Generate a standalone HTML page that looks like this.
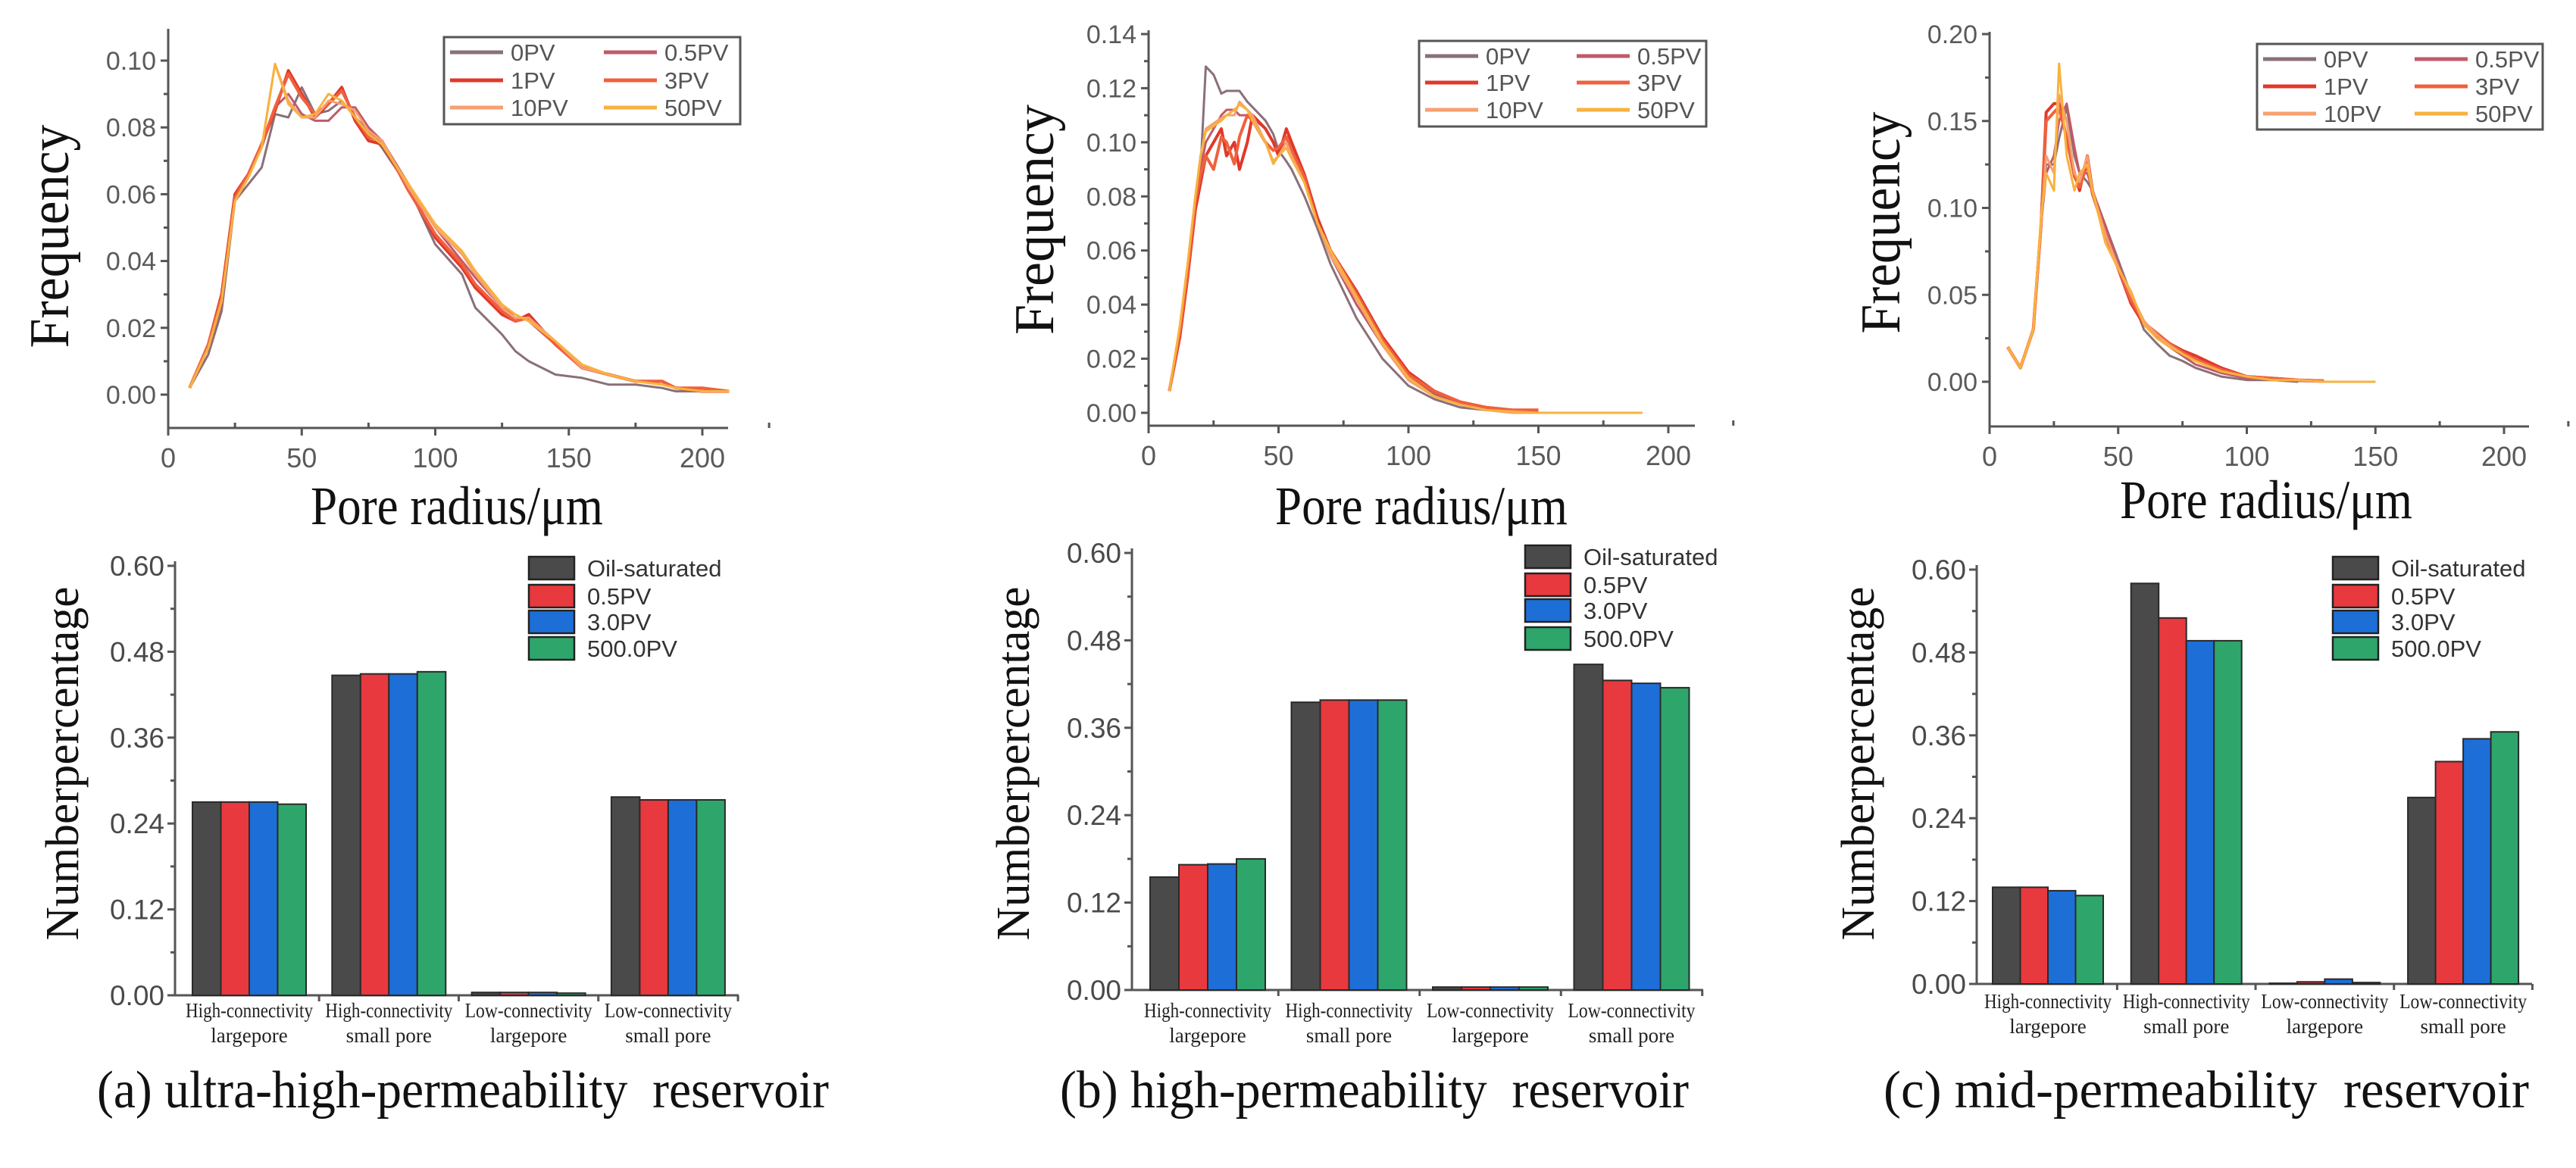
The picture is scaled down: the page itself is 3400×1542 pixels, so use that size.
<!DOCTYPE html>
<html><head><meta charset="utf-8"><style>
html,body{margin:0;padding:0;background:#fff}
svg{display:block}
</style></head><body>
<svg id="fig" width="3400" height="1542" viewBox="0 0 3400 1542" xmlns="http://www.w3.org/2000/svg">
<rect x="0" y="0" width="3400" height="1542" fill="#fff"/>
</svg>
<script>
// ---------- line chart data ----------
const legendLabels = ["0PV","0.5PV","1PV","3PV","10PV","50PV"];
const lineColors = ["#8a7078","#c05a68","#e0382a","#f0603e","#f7a070","#f8b23e"];

const xA = [8,15,20,25,30,35,40,45,50,55,60,65,70,75,80,90,100,110,115,125,130,135,145,155,165,175,185,190,200,210];
const a0 = [.002,.012,.025,.058,.063,.068,.084,.083,.092,.084,.085,.088,.083,.079,.074,.062,.045,.036,.026,.018,.013,.010,.006,.005,.003,.003,.002,.001,.001,.001];
const a05 = [.002,.014,.027,.060,.066,.074,.086,.090,.084,.082,.082,.086,.086,.080,.076,.063,.050,.040,.035,.026,.024,.022,.015,.008,.006,.004,.004,.002,.001,.001];
const a1 = [.002,.015,.030,.060,.066,.075,.085,.097,.090,.083,.087,.092,.082,.076,.075,.062,.047,.038,.032,.024,.022,.024,.015,.008,.006,.004,.004,.002,.001,.001];
const a3 = [.002,.015,.029,.059,.066,.075,.086,.096,.089,.084,.087,.091,.083,.077,.076,.061,.048,.039,.033,.025,.022,.023,.015,.008,.006,.004,.004,.002,.002,.001];
const a10 = [.002,.014,.028,.058,.065,.074,.099,.088,.083,.083,.088,.087,.085,.079,.076,.062,.050,.042,.036,.026,.023,.023,.016,.008,.006,.004,.003,.002,.001,.001];
const a50 = [.002,.014,.028,.058,.065,.074,.099,.087,.083,.084,.090,.088,.083,.078,.075,.063,.051,.043,.037,.027,.024,.022,.016,.009,.006,.004,.003,.002,.001,.001];
const yTicksA = ["0.00","0.02","0.04","0.06","0.08","0.10"];

const xB = [8,12,15,18,20,22,25,28,30,33,35,38,40,45,48,50,53,55,60,65,70,80,90,100,110,120,130,140,150,170,190];
const b0 = [.008,.030,.050,.075,.090,.128,.125,.118,.119,.119,.119,.115,.113,.108,.103,.097,.093,.090,.080,.068,.055,.035,.020,.010,.005,.002,.001,.0005,null,null,null];
const b05 = [.008,.030,.050,.080,.090,.100,.105,.110,.112,.112,.110,.110,.109,.105,.100,.097,.100,.096,.085,.070,.058,.040,.025,.013,.007,.003,.001,.001,.0005,null,null];
const b1 = [.008,.028,.050,.075,.085,.095,.100,.105,.095,.100,.090,.100,.110,.105,.100,.095,.105,.100,.088,.072,.060,.045,.028,.015,.008,.004,.002,.001,.001,null,null];
const b3 = [.008,.030,.052,.078,.088,.095,.090,.102,.100,.092,.102,.110,.108,.100,.097,.098,.102,.097,.087,.070,.060,.044,.027,.014,.008,.004,.002,.001,.001,null,null];
const b10 = [.008,.032,.055,.080,.095,.105,.107,.109,.110,.110,.115,.112,.110,.100,.093,.095,.100,.095,.085,.070,.058,.042,.025,.012,.006,.003,.001,0,0,0,0];
const b50 = [.008,.032,.055,.080,.095,.104,.106,.108,.110,.112,.114,.112,.108,.100,.092,.095,.098,.094,.085,.070,.060,.043,.026,.013,.006,.003,.001,.0005,0,0,0];
const yTicksB = ["0.00","0.02","0.04","0.06","0.08","0.10","0.12","0.14"];

const xC = [7,12,17,20,22,25,27,30,33,35,38,40,45,50,55,60,65,70,75,80,90,100,110,120,130,150];
const c0 = [.020,.008,.030,.090,.125,.125,.140,.158,.130,.120,.115,.110,.090,.070,.050,.030,.022,.015,.012,.008,.003,.001,.001,0,null,null];
const c05 = [.020,.008,.030,.090,.120,.130,.150,.160,.135,.120,.120,.110,.090,.068,.050,.035,.026,.020,.015,.010,.005,.002,.001,.0005,0,null];
const c1 = [.020,.008,.030,.090,.155,.160,.160,.140,.120,.110,.130,.110,.085,.065,.045,.033,.027,.022,.018,.015,.008,.003,.002,.001,.0005,null];
const c3 = [.020,.008,.030,.090,.150,.155,.158,.140,.118,.112,.125,.108,.085,.065,.047,.034,.028,.022,.017,.013,.007,.003,.002,.001,.0005,null];
const c10 = [.020,.008,.030,.090,.130,.120,.165,.150,.120,.115,.130,.110,.085,.066,.050,.035,.027,.021,.016,.012,.006,.003,.001,.001,0,0];
const c50 = [.020,.008,.030,.095,.120,.110,.183,.130,.110,.120,.125,.110,.080,.065,.052,.033,.025,.020,.016,.012,.006,.003,.001,.001,0,0];
const yTicksC = ["0.00","0.05","0.10","0.15","0.20"];

const xTickLabels = ["0","50","100","150","200"];

// ---------- bar chart data ----------
const categoriesL1 = ["High-connectivity","High-connectivity","Low-connectivity","Low-connectivity"];
const categoriesL2 = ["largepore","small pore","largepore","small pore"];
const barLegend = ["Oil-saturated","0.5PV","3.0PV","500.0PV"];
const barColors = ["#4a4a4a","#e8393e","#1e6ed8","#2ea66b"];
const barTicks = ["0.00","0.12","0.24","0.36","0.48","0.60"];
const barsA_oil = [0.270,0.447,0.004,0.277];
const barsA_05 = [0.270,0.449,0.004,0.273];
const barsA_3 = [0.270,0.449,0.004,0.273];
const barsA_500 = [0.267,0.452,0.003,0.273];
const barsB_oil = [0.155,0.395,0.004,0.447];
const barsB_05 = [0.172,0.398,0.004,0.425];
const barsB_3 = [0.173,0.398,0.004,0.421];
const barsB_500 = [0.180,0.398,0.004,0.415];
const barsC_oil = [0.140,0.580,0.001,0.270];
const barsC_05 = [0.140,0.530,0.003,0.322];
const barsC_3 = [0.135,0.497,0.007,0.355];
const barsC_500 = [0.128,0.497,0.002,0.365];

const NS = "http://www.w3.org/2000/svg";
const svg = document.getElementById("fig");
function mk(tag, attrs, parent){
  const e = document.createElementNS(NS, tag);
  for (const k in attrs) e.setAttribute(k, attrs[k]);
  (parent||svg).appendChild(e);
  return e;
}
function txt(parent, x, y, s, attrs){
  const t = mk("text", Object.assign({x:x, y:y}, attrs), parent);
  t.textContent = s;
  return t;
}

function lineChart(p){
  const g = mk("g", {});
  
  
  const sx = v => p.x0 + (v/200)*(p.x200 - p.x0);
  const sy = v => p.yZero - (v/p.yMax)*(p.yZero - p.yMaxPx);
  const ax = mk("g", {stroke:"#555","stroke-width":3, fill:"none"}, g);
  
  
  mk("line", {x1:p.x0, y1:p.axisTop, x2:p.x0, y2:p.axisY}, ax);
  mk("line", {x1:p.x0, y1:p.axisY, x2:p.axisEnd, y2:p.axisY}, ax);
  p.yTicks.forEach((lab, i) => {
    const v = parseFloat(lab);
    const y = sy(v);
    mk("line", {x1:p.x0-10, y1:y, x2:p.x0, y2:y}, ax);
    const t = txt(g, p.x0-16, y+12, lab, {"font-family":"Liberation Sans, sans-serif","font-size":34, fill:"#5a5a5a","text-anchor":"end"});
    
    
    if (i < p.yTicks.length-1){
      const ym = sy(v + (parseFloat(p.yTicks[1])-parseFloat(p.yTicks[0]))/2);
      mk("line", {x1:p.x0-6, y1:ym, x2:p.x0, y2:ym}, ax);
    }
  });
  xTickLabels.forEach(lab => {
    const v = parseFloat(lab);
    const x = sx(v);
    mk("line", {x1:x, y1:p.axisY, x2:x, y2:p.axisY+10}, ax);
    mk("line", {x1:sx(v+25), y1:p.axisY, x2:sx(v+25), y2:p.axisY-7}, ax);
    const t = txt(g, x, p.axisY+52, lab, {"font-family":"Liberation Sans, sans-serif","font-size":36, fill:"#5a5a5a","text-anchor":"middle"});
    
    
  });
  p.series.forEach((ys, si) => {
    let d = "", pen = false;
    ys.forEach((v, i) => {
      if (v === null){ pen = false; return; }
      d += (pen ? "L" : "M") + sx(p.xs[i]).toFixed(1) + " " + sy(v).toFixed(1) + " ";
      pen = true;
    });
    const path = mk("path", {d:d, fill:"none", stroke:lineColors[si], "stroke-width": si===2||si===3?4:3, "stroke-linejoin":"round"}, g);
    
    
  });
  const lg = mk("g", {}, g);
  
  
  mk("rect", {x:p.lg.x, y:p.lg.y, width:p.lg.w, height:p.lg.h, fill:"#fff", stroke:"#555", "stroke-width":3}, lg);
  legendLabels.forEach((lab, i) => {
    const col = i % 2, row = Math.floor(i/2);
    const lx = p.lg.x + 8 + col*p.lg.colW;
    const ly = p.lg.rows[row];
    const e = mk("g", {}, lg);
    
    
    mk("line", {x1:lx, y1:ly, x2:lx+70, y2:ly, stroke:lineColors[i], "stroke-width":5}, e);
    txt(e, lx+80, ly+11, lab, {"font-family":"Liberation Sans, sans-serif","font-size":31, fill:"#555"});
  });
  const yt = txt(g, 0, 0, "Frequency", {"font-family":"Liberation Serif, serif","font-size":74, fill:"#111","text-anchor":"middle", transform:`translate(${p.ylab.x},${p.ylab.y}) rotate(-90)`, textLength:p.ylab.len, lengthAdjust:"spacingAndGlyphs"});
  
  
  const xt = txt(g, p.xlab.x, p.xlab.y, "Pore radius/μm", {"font-family":"Liberation Serif, serif","font-size":72, fill:"#111", textLength:p.xlab.len, lengthAdjust:"spacingAndGlyphs"});
  
  
}

function barChart(p){
  const g = mk("g", {});
  
  
  const sy = v => p.yZero - (v/0.6)*(p.yZero - p.yTop);
  const ax = mk("g", {stroke:"#555","stroke-width":3, fill:"none"}, g);
  
  
  mk("line", {x1:p.x0, y1:p.yTop-6, x2:p.x0, y2:p.yZero}, ax);
  mk("line", {x1:p.x0, y1:p.yZero, x2:p.axisEnd, y2:p.yZero}, ax);
  barTicks.forEach((lab, i) => {
    const v = parseFloat(lab), y = sy(v);
    mk("line", {x1:p.x0-10, y1:y, x2:p.x0, y2:y}, ax);
    if (i < barTicks.length-1) mk("line", {x1:p.x0-6, y1:sy(v+0.06), x2:p.x0, y2:sy(v+0.06)}, ax);
    const t = txt(g, p.x0-14, y+13, lab, {"font-family":"Liberation Sans, sans-serif","font-size":37, fill:"#4a4a4a","text-anchor":"end"});
    
    
  });
  const bw = p.barW;
  p.series.forEach((vals, si) => {
    vals.forEach((v, ci) => {
      const gx = p.groupStart[0] + ci*p.groupStep;
      const r = mk("rect", {x:gx + si*bw, y:sy(v), width:bw, height:p.yZero - sy(v), fill:barColors[si], stroke:"#2a2a2a", "stroke-width":2}, g);
      
      
    });
  });
  categoriesL1.forEach((lab, ci) => {
    const cx = p.groupStart[0] + ci*p.groupStep + 2*bw;
    mk("line", {x1:cx + 2*bw + (p.groupStep-4*bw)/2, y1:p.yZero, x2:cx + 2*bw + (p.groupStep-4*bw)/2, y2:p.yZero+8, stroke:"#555","stroke-width":3}, g);
    const t = txt(g, cx, p.catY, lab, {"font-family":"Liberation Serif, serif","font-size":27, fill:"#222","text-anchor":"middle", textLength:168, lengthAdjust:"spacingAndGlyphs"});
    
    
    const t2 = txt(g, cx, p.catY+33, categoriesL2[ci], {"font-family":"Liberation Serif, serif","font-size":27, fill:"#222","text-anchor":"middle"});
    
    
  });
  const lg = mk("g", {}, g);
  
  
  barLegend.forEach((lab, i) => {
    const y = p.lg.rows[i];
    const e = mk("g", {}, lg);
    
    
    mk("rect", {x:p.lg.x, y:y-15, width:60, height:30, fill:barColors[i], stroke:"#222", "stroke-width":2.5}, e);
    txt(e, p.lg.x+77, y+11, lab, {"font-family":"Liberation Sans, sans-serif","font-size":31, fill:"#333"});
  });
  const yt = txt(g, 0, 0, "Numberpercentage", {"font-family":"Liberation Serif, serif","font-size":62, fill:"#111","text-anchor":"middle", transform:`translate(${p.ylab.x},${p.ylab.y}) rotate(-90)`, textLength:467, lengthAdjust:"spacingAndGlyphs"});
  
  
  const cap = txt(g, p.cap.x, p.cap.y, p.cap.s, {"font-family":"Liberation Serif, serif","font-size":70, fill:"#111", textLength:p.cap.len, lengthAdjust:"spacingAndGlyphs"});
  
  
}

lineChart({name:"frequency-chart-a", xs:xA, series:[a0,a05,a1,a3,a10,a50], yTicks:yTicksA, yMax:0.10,
  x0:222, x200:927, axisEnd:961, axisTop:38, axisY:565, yZero:521, yMaxPx:80,
  lg:{x:586,y:49,w:391,h:115,colW:203,rows:[69,106,142]},
  ylab:{x:90,y:312,len:295}, xlab:{x:410,y:692,len:386}});
lineChart({name:"frequency-chart-b", xs:xB, series:[b0,b05,b1,b3,b10,b50], yTicks:yTicksB, yMax:0.14,
  x0:1516, x200:2202, axisEnd:2237, axisTop:40, axisY:562, yZero:545, yMaxPx:45,
  lg:{x:1873,y:54,w:379,h:113,colW:200,rows:[74,109,145]},
  ylab:{x:1390,y:290,len:304}, xlab:{x:1683,y:692,len:386}});
lineChart({name:"frequency-chart-c", xs:xC, series:[c0,c05,c1,c3,c10,c50], yTicks:yTicksC, yMax:0.20,
  x0:2626, x200:3305, axisEnd:3338, axisTop:42, axisY:563, yZero:504, yMaxPx:45,
  lg:{x:2979,y:58,w:377,h:113,colW:200,rows:[78,114,150]},
  ylab:{x:2507,y:294,len:293}, xlab:{x:2798,y:684,len:386}});

barChart({name:"bar-chart-a", series:[barsA_oil,barsA_05,barsA_3,barsA_500],
  x0:231, axisEnd:975, yZero:1314, yTop:747, barW:37.5, groupStart:[254], groupStep:184.3, catY:1343,
  lg:{x:698,rows:[750,787,821,856]}, ylab:{x:103,y:1008},
  cap:{x:128,y:1462,s:"(a) ultra-high-permeability\u00a0\u00a0reservoir",len:966}});
barChart({name:"bar-chart-b", series:[barsB_oil,barsB_05,barsB_3,barsB_500],
  x0:1494, axisEnd:2248, yZero:1307, yTop:730, barW:38, groupStart:[1518], groupStep:186.5, catY:1343,
  lg:{x:2013,rows:[735,772,806,843]}, ylab:{x:1358,y:1008},
  cap:{x:1399,y:1462,s:"(b) high-permeability\u00a0\u00a0reservoir",len:830}});
barChart({name:"bar-chart-c", series:[barsC_oil,barsC_05,barsC_3,barsC_500],
  x0:2609, axisEnd:3342, yZero:1299, yTop:752, barW:36.5, groupStart:[2630], groupStep:182.7, catY:1331,
  lg:{x:3079,rows:[750,787,821,856]}, ylab:{x:2473,y:1008},
  cap:{x:2486,y:1462,s:"(c) mid-permeability\u00a0\u00a0reservoir",len:852}});
</script>
</body></html>
